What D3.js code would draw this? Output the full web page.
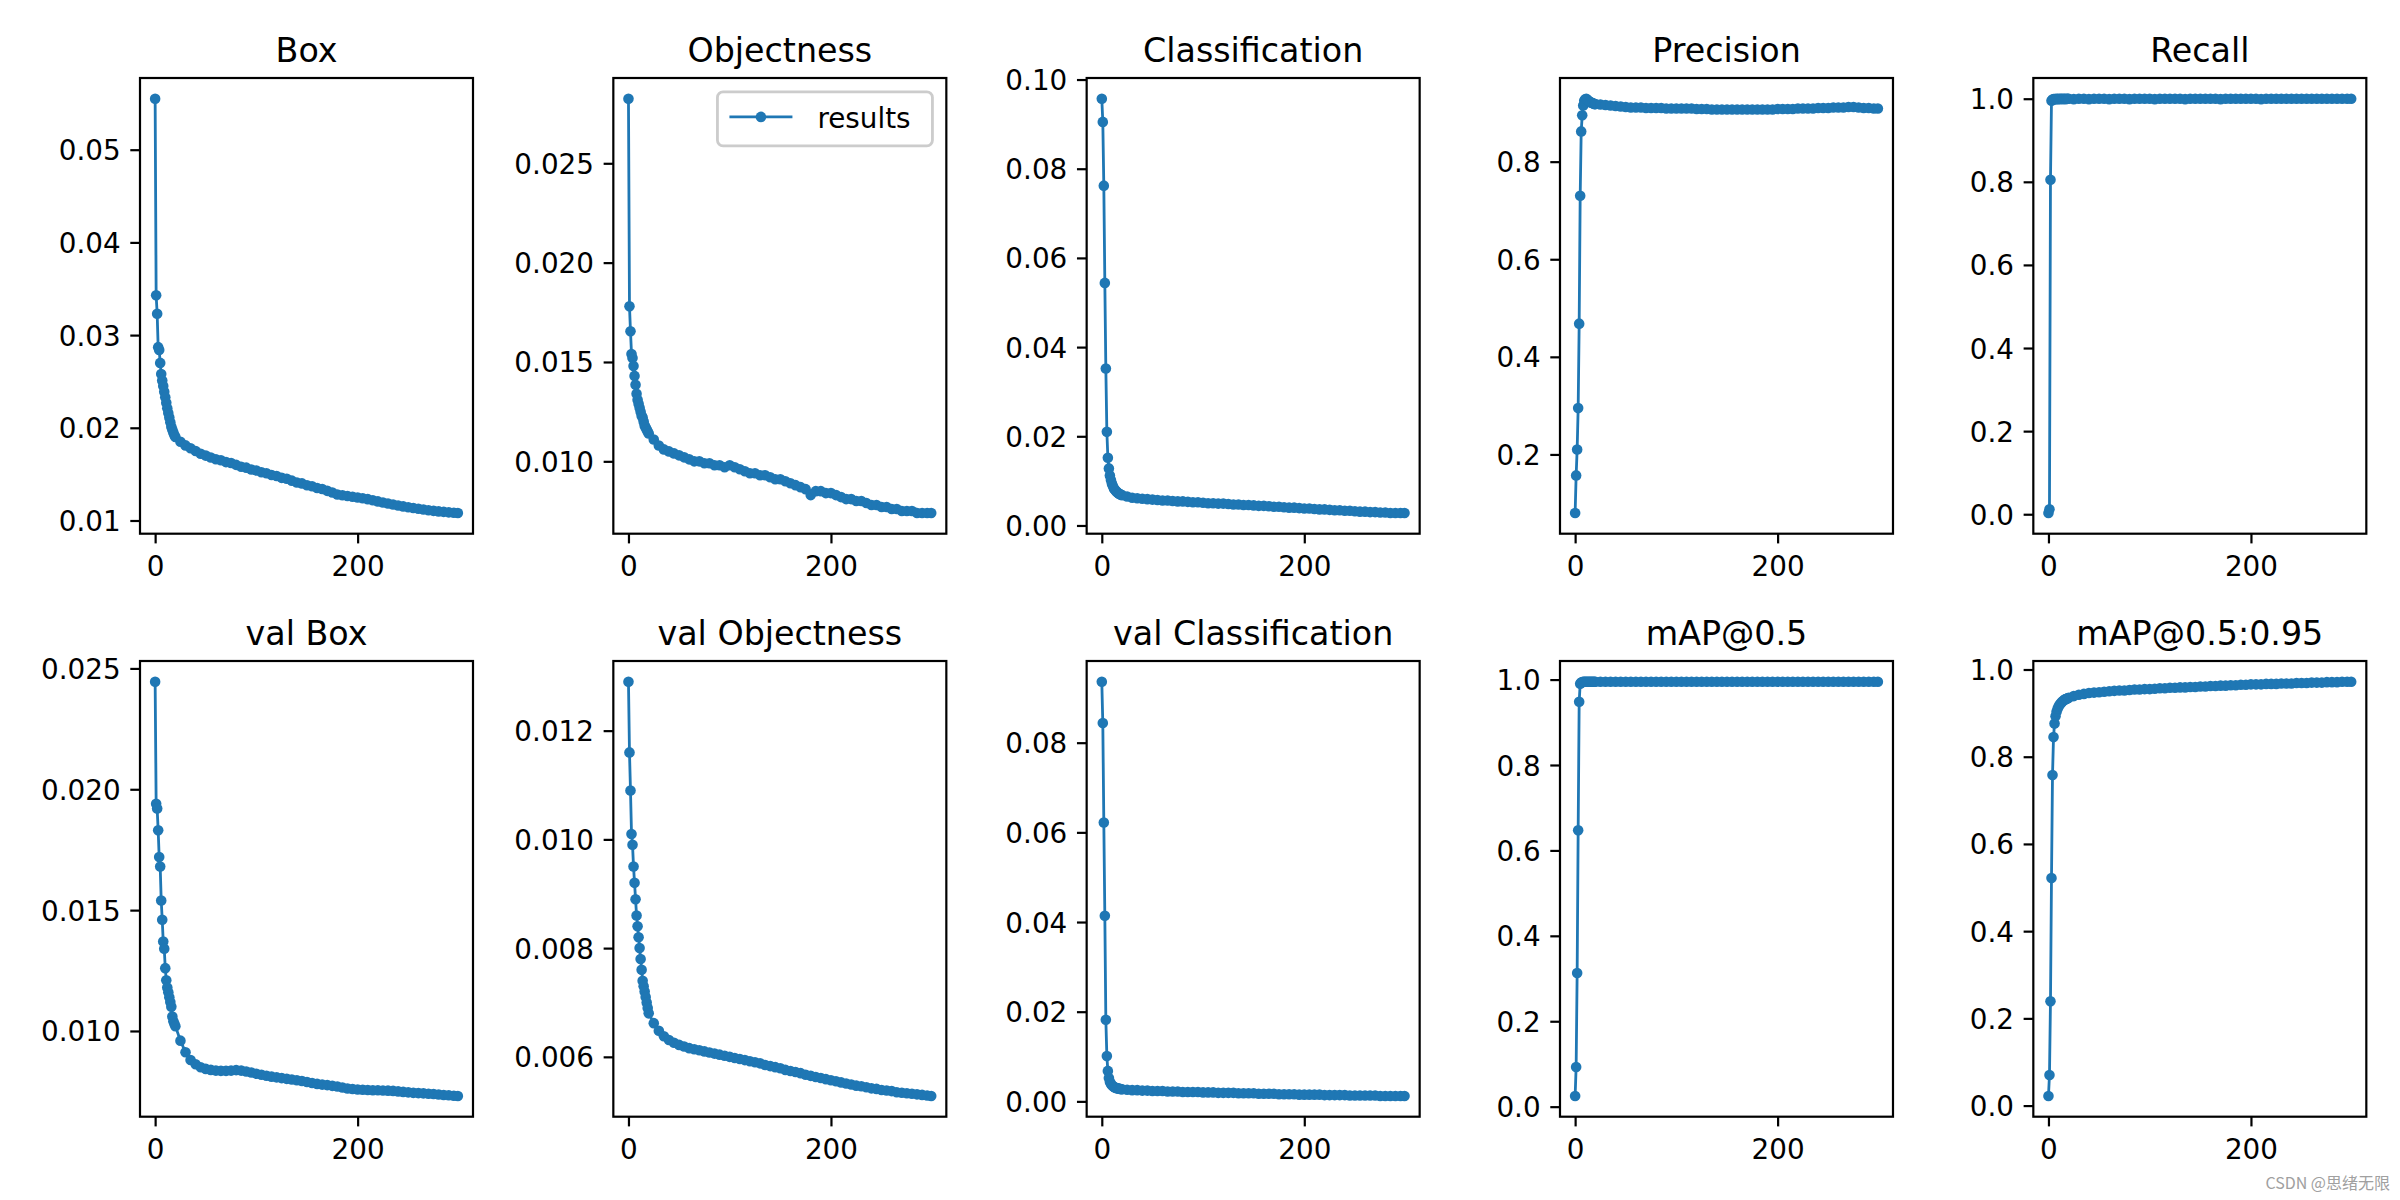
<!DOCTYPE html>
<html>
<head>
<meta charset="utf-8">
<script src="https://cdn.jsdelivr.net/npm/d3@7"></script>
<style>
body { margin: 0; background: #fff; }
text { font-family: "DejaVu Sans", sans-serif; }
</style>
</head>
<body>
<div id="canvas"></div>
<script>
// epochs (every epoch early on, then every 5)
const epochs = [0,1,2,3,4,5,6,7,8,9,10,11,12,13,14,15,16,17,18,19,
  20,25,30,35,40,45,50,55,60,65,
  70,75,80,85,90,95,100,105,110,115,
  120,125,130,135,140,145,150,155,160,165,
  170,175,180,185,190,195,200,205,210,215,
  220,225,230,235,240,245,250,255,260,265,
  270,275,280,285,290,295,299];

const box = [0.0555,0.0343,0.0323,0.0287,0.0284,0.0270,0.0258,0.0251,0.0245,0.0239,
  0.0233,0.0227,0.0221,0.0216,0.0211,0.0206,0.0201,0.0198,0.0195,0.0192,
  0.0190,0.0185,0.0181,0.0178,0.0175,0.0172,0.0170,0.0168,0.0166,0.0165,
  0.0163,0.0162,0.0160,0.0158,0.0157,0.0155,0.0154,0.0152,0.0151,0.0149,
  0.0148,0.0146,0.0145,0.0143,0.0141,0.0140,0.0138,0.0137,0.0135,0.0134,
  0.01320,0.01302,0.01280,0.01272,0.01264,0.01256,0.01248,0.01240,0.01230,0.01218,
  0.01206,0.01194,0.01183,0.01172,0.01162,0.01152,0.01143,0.01134,0.01126,0.01118,
  0.01111,0.01104,0.01098,0.01093,0.01088,0.01084,0.01081];

const objectness = [0.02825,0.0178,0.01655,0.0154,0.0152,0.0148,0.0143,0.01385,0.0134,0.0131,
  0.0129,0.0127,0.0125,0.0123,0.0122,0.0120,0.0118,0.0117,0.0116,0.0115,
  0.0114,0.0111,0.0108,0.0106,0.0105,0.0104,0.0103,0.0102,0.0101,0.0100,
  0.0100,0.0099,0.0099,0.0098,0.0098,0.0097,0.0098,0.0097,0.0096,0.0095,
  0.0094,0.0094,0.0093,0.0093,0.0092,0.0091,0.0091,0.0090,0.0089,0.0088,
  0.0087,0.0086,0.0083,0.0085,0.0085,0.0084,0.0084,0.0083,0.0082,0.0081,
  0.0081,0.0080,0.0080,0.0079,0.0078,0.0078,0.0077,0.0077,0.0076,0.0076,
  0.0075,0.0075,0.0075,0.0074,0.0074,0.0074,0.0074];

const classification = [0.0957,0.0905,0.0762,0.0544,0.0352,0.0210,0.0152,0.0128,0.0112,0.0102,
  0.0094,0.0088,0.0083,0.0080,0.0077,0.0075,0.0073,0.0071,0.0070,0.0069,
  0.0068,0.0065,0.0062,0.0061,0.0060,0.0059,0.0058,0.0057,0.0056,0.0056,
  0.0055,0.0054,0.0054,0.0053,0.0052,0.0052,0.0051,0.0050,0.0050,0.0049,
  0.0049,0.0048,0.0047,0.0047,0.0046,0.0046,0.0045,0.0044,0.0044,0.0043,
  0.0042,0.0042,0.0041,0.0040,0.0040,0.0039,0.0038,0.0038,0.0037,0.0036,
  0.0036,0.0035,0.0034,0.0034,0.0033,0.0033,0.0032,0.0031,0.0031,0.0030,
  0.0030,0.0029,0.0029,0.0028,0.0028,0.0028,0.0028];

const precision = [0.080,0.157,0.210,0.295,0.468,0.730,0.862,0.895,0.915,0.925,
  0.928,0.929,0.927,0.925,0.923,0.922,0.921,0.920,0.919,0.918,
  0.918,0.917,0.916,0.915,0.914,0.913,0.912,0.911,0.911,0.911,
  0.910,0.910,0.910,0.910,0.909,0.909,0.909,0.909,0.909,0.909,
  0.908,0.908,0.908,0.907,0.907,0.907,0.907,0.907,0.907,0.907,
  0.907,0.907,0.907,0.907,0.907,0.907,0.908,0.908,0.908,0.908,
  0.909,0.909,0.909,0.909,0.910,0.910,0.910,0.911,0.911,0.911,
  0.912,0.912,0.911,0.910,0.910,0.909,0.909];

const recall = [0.003,0.012,0.805,0.995,0.998,0.999,0.999,0.999,1.000,0.999,
  1.000,0.999,1.000,1.000,0.999,1.000,1.000,0.999,1.000,1.000,
  1.000,0.999,1.000,1.000,0.999,1.000,1.000,1.000,0.999,1.000,
  1.000,1.000,0.999,1.000,1.000,1.000,1.000,0.999,1.000,1.000,
  1.000,1.000,1.000,0.999,1.000,1.000,1.000,1.000,1.000,1.000,
  0.999,1.000,1.000,1.000,1.000,1.000,1.000,1.000,0.999,1.000,
  1.000,1.000,1.000,1.000,1.000,1.000,1.000,1.000,1.000,1.000,
  1.000,1.000,1.000,1.000,1.000,1.000,1.000];

const valBox = [0.02445,0.0194,0.0192,0.0183,0.0172,0.0168,0.0154,0.0146,0.0137,0.0134,
  0.0126,0.0121,0.0118,0.0116,0.0114,0.0112,0.0110,0.0106,0.0104,0.0103,
  0.01020,0.00960,0.00912,0.00880,0.00862,0.00850,0.00843,0.00839,0.00836,0.00835,
  0.00835,0.00836,0.00838,0.00836,0.00832,0.00828,0.00823,0.00819,0.00815,0.00811,
  0.00808,0.00805,0.00802,0.00799,0.00796,0.00793,0.00789,0.00785,0.00781,0.00778,
  0.00776,0.00773,0.00770,0.00766,0.00762,0.00760,0.00758,0.00757,0.00756,0.00755,
  0.00755,0.00754,0.00753,0.00752,0.00750,0.00748,0.00746,0.00744,0.00743,0.00742,
  0.00740,0.00739,0.00737,0.00735,0.00734,0.00732,0.00731];

const valObjectness = [0.0129,0.0116,0.0109,0.0101,0.0099,0.0095,0.0092,0.0089,0.0086,0.0084,
  0.0082,0.0080,0.0078,0.0076,0.0074,0.0073,0.0072,0.0071,0.0070,0.0069,
  0.00680,0.00662,0.00648,0.00638,0.00631,0.00626,0.00622,0.00619,0.00616,0.00614,
  0.00612,0.00610,0.00608,0.00606,0.00604,0.00602,0.00600,0.00598,0.00596,0.00594,
  0.00592,0.00590,0.00588,0.00585,0.00583,0.00581,0.00579,0.00576,0.00574,0.00572,
  0.00570,0.00567,0.00565,0.00563,0.00561,0.00559,0.00557,0.00555,0.00553,0.00551,
  0.00549,0.00547,0.00546,0.00544,0.00542,0.00541,0.00539,0.00538,0.00537,0.00535,
  0.00534,0.00533,0.00532,0.00531,0.00530,0.00529,0.00528];

const valClassification = [0.0936,0.0844,0.0622,0.0414,0.0182,0.0101,0.0068,0.0052,0.0044,0.0039,
  0.0036,0.0034,0.0032,0.0031,0.0030,0.0029,0.0029,0.0028,0.0028,0.0027,
  0.0027,0.0026,0.0025,0.0025,0.0024,0.0024,0.0023,0.0023,0.0023,0.0022,
  0.0022,0.0022,0.0021,0.0021,0.0021,0.0021,0.0020,0.0020,0.0020,0.0019,
  0.0019,0.0019,0.0019,0.0018,0.0018,0.0018,0.0018,0.0017,0.0017,0.0017,
  0.0017,0.0016,0.0016,0.0016,0.0016,0.0015,0.0015,0.0015,0.0015,0.0015,
  0.0014,0.0014,0.0014,0.0014,0.0014,0.0013,0.0013,0.0013,0.0013,0.0013,
  0.0013,0.0012,0.0012,0.0012,0.0012,0.0012,0.0012];

const map50 = [0.025,0.093,0.313,0.647,0.948,0.990,0.993,0.994,0.995,0.995,
  0.995,0.995,0.995,0.995,0.995,0.995,0.995,0.995,0.995,0.995,
  0.995,0.995,0.995,0.995,0.995,0.995,0.995,0.995,0.995,0.995,
  0.995,0.995,0.995,0.995,0.995,0.995,0.995,0.995,0.995,0.995,
  0.995,0.995,0.995,0.995,0.995,0.995,0.995,0.995,0.995,0.995,
  0.995,0.995,0.995,0.995,0.995,0.995,0.995,0.995,0.995,0.995,
  0.995,0.995,0.995,0.995,0.995,0.995,0.995,0.995,0.995,0.995,
  0.995,0.995,0.995,0.995,0.995,0.995,0.995];

const map5095 = [0.022,0.070,0.239,0.522,0.758,0.845,0.876,0.893,0.903,0.910,
  0.915,0.919,0.922,0.925,0.927,0.929,0.931,0.932,0.933,0.934,
  0.935,0.939,0.942,0.944,0.946,0.947,0.948,0.949,0.950,0.951,
  0.952,0.952,0.953,0.954,0.954,0.955,0.955,0.956,0.957,0.957,
  0.958,0.958,0.959,0.959,0.960,0.960,0.961,0.961,0.962,0.962,
  0.963,0.963,0.964,0.964,0.965,0.965,0.966,0.966,0.966,0.967,
  0.967,0.967,0.968,0.968,0.968,0.969,0.969,0.969,0.970,0.970,
  0.970,0.971,0.971,0.971,0.972,0.972,0.972];

const titles = ["Box", "Objectness", "Classification", "Precision", "Recall",
  "val Box", "val Objectness", "val Classification", "mAP@0.5", "mAP@0.5:0.95"];
const series = [box, objectness, classification, precision, recall,
  valBox, valObjectness, valClassification, map50, map5095];

const xTicks = ["0", "200"];
const yTicks = [
  ["0.01", "0.02", "0.03", "0.04", "0.05"],
  ["0.010", "0.015", "0.020", "0.025"],
  ["0.00", "0.02", "0.04", "0.06", "0.08", "0.10"],
  ["0.2", "0.4", "0.6", "0.8"],
  ["0.0", "0.2", "0.4", "0.6", "0.8", "1.0"],
  ["0.010", "0.015", "0.020", "0.025"],
  ["0.006", "0.008", "0.010", "0.012"],
  ["0.00", "0.02", "0.04", "0.06", "0.08"],
  ["0.0", "0.2", "0.4", "0.6", "0.8", "1.0"],
  ["0.0", "0.2", "0.4", "0.6", "0.8", "1.0"]
];
const legendLabel = "results";

const width = 2400;
const height = 1200;
const margin = { top: 78, left: 140 };
const cellW = 473.33;
const cellH = 583;
const iwidth = 333;
const iheight = 455.7;
const blue = "#1f77b4";
const tickFont = 27.8;

const svg = d3.select("#canvas").append("svg")
  .attr("width", width)
  .attr("height", height);

const x = d3.scaleLinear().range([0, iwidth]);
const xExt = d3.extent(epochs);
const xPad = (xExt[1] - xExt[0]) * 0.05;
x.domain([xExt[0] - xPad, xExt[1] + xPad]);

const styleAxis = (sel) => {
  sel.select(".domain").remove();
  sel.selectAll(".tick line").attr("stroke", "#000").attr("stroke-width", 2.2);
  sel.selectAll(".tick text").attr("fill", "#000").style("font-size", tickFont + "px");
};

titles.forEach((title, i) => {
  const col = i % 5;
  const row = Math.floor(i / 5);
  const values = series[i];
  const pts = epochs.map((e, k) => [e, values[k]]);

  const g = svg.append("g")
    .attr("transform", `translate(${margin.left + col * cellW},${margin.top + row * cellH})`);

  const ext = d3.extent(values);
  const pad = (ext[1] - ext[0]) * 0.05;
  const y = d3.scaleLinear()
    .domain([ext[0] - pad, ext[1] + pad])
    .range([iheight, 0]);

  g.append("path")
    .datum(pts)
    .attr("fill", "none")
    .attr("stroke", blue)
    .attr("stroke-width", 2.8)
    .attr("d", d3.line().x(d => x(d[0])).y(d => y(d[1])));

  g.selectAll("circle").data(pts).enter().append("circle")
    .attr("cx", d => x(d[0]))
    .attr("cy", d => y(d[1]))
    .attr("r", 5.3)
    .attr("fill", blue);

  g.append("g")
    .attr("transform", `translate(0,${iheight})`)
    .call(d3.axisBottom(x).tickValues(xTicks.map(Number)).tickFormat((d, k) => xTicks[k])
      .tickSize(9.7).tickPadding(9.7))
    .call(styleAxis)
    .selectAll(".tick text").attr("dy", "0.82em");

  g.append("g")
    .call(d3.axisLeft(y).tickValues(yTicks[i].map(Number)).tickFormat((d, k) => yTicks[i][k])
      .tickSize(9.7).tickPadding(9.7))
    .call(styleAxis)
    .selectAll(".tick text").attr("dy", "0.36em");

  g.append("rect")
    .attr("width", iwidth)
    .attr("height", iheight)
    .attr("fill", "none")
    .attr("stroke", "#000")
    .attr("stroke-width", 2.2);

  g.append("text")
    .attr("x", iwidth / 2)
    .attr("y", -16.5)
    .attr("text-anchor", "middle")
    .style("font-size", "33.3px")
    .text(title);

  if (i === 1) {
    const lw = 215, lh = 54;
    const lg = g.append("g").attr("transform", `translate(${iwidth - 13.9 - lw},13.9)`);
    lg.append("rect")
      .attr("width", lw).attr("height", lh).attr("rx", 5.6)
      .attr("fill", "#fff").attr("fill-opacity", 0.8)
      .attr("stroke", "#cccccc").attr("stroke-width", 2.8);
    lg.append("line")
      .attr("x1", 12).attr("x2", 75).attr("y1", lh / 2 - 2).attr("y2", lh / 2 - 2)
      .attr("stroke", blue).attr("stroke-width", 2.8);
    lg.append("circle")
      .attr("cx", 43.5).attr("cy", lh / 2 - 2).attr("r", 5.3).attr("fill", blue);
    lg.append("text")
      .attr("x", 100).attr("y", lh / 2 + 9)
      .style("font-size", tickFont + "px")
      .text(legendLabel);
  }
});

svg.append("text")
  .attr("x", 2390)
  .attr("y", 1189)
  .attr("text-anchor", "end")
  .attr("fill", "#a0a0a0")
  .style("font-family", "'Noto Sans CJK SC', sans-serif")
  .style("font-size", "16px")
  .text("CSDN @思绪无限");
</script>
</body>
</html>
